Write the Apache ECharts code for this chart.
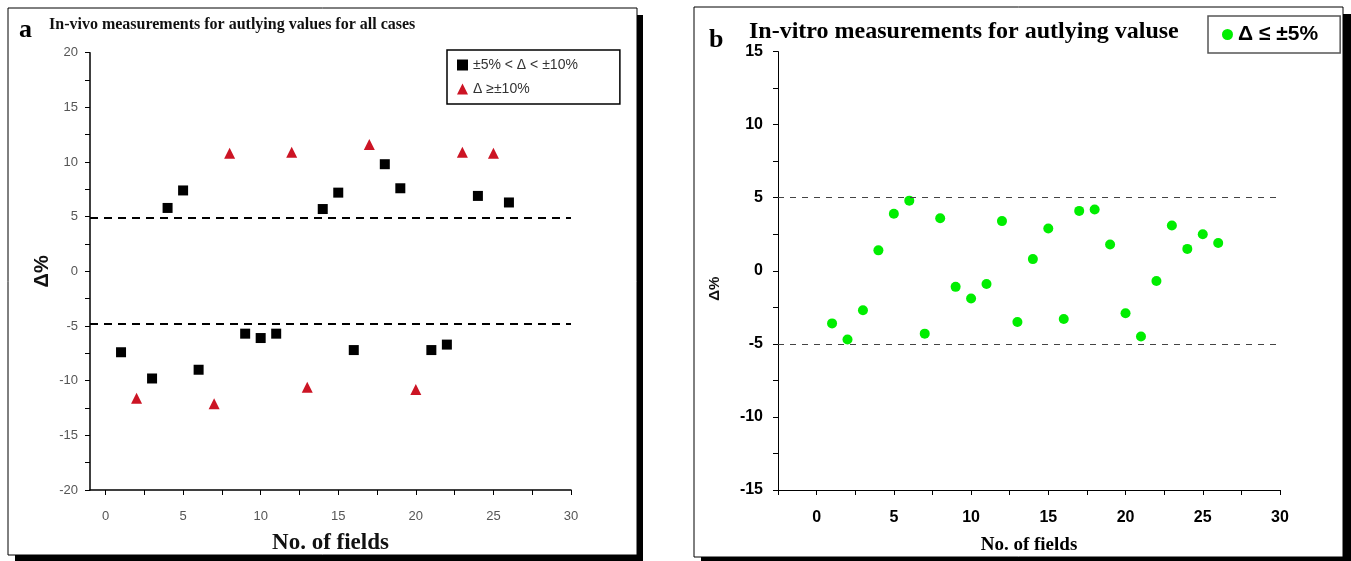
<!DOCTYPE html>
<html>
<head>
<meta charset="utf-8">
<script src="https://cdn.jsdelivr.net/npm/echarts@6/dist/echarts.min.js"></script>
<style>
  html, body { margin: 0; padding: 0; background: #fff; }
  #chart { width: 1351px; height: 561px; }
</style>
</head>
<body>
<div id="chart"></div>
<script>
// panel a: in-vivo outliers
const sqFieldA = [1, 3, 4, 5, 6, 9, 10, 11, 14, 15, 16, 18, 19, 21, 22, 24, 26];
const sqDeltaA = [-7.4, -9.8, 5.8, 7.4, -9.0, -5.7, -6.1, -5.7, 5.7, 7.2, -7.2, 9.8, 7.6, -7.2, -6.7, 6.9, 6.3];
const triFieldA = [2, 7, 8, 12, 13, 17, 20, 23, 25];
const triDeltaA = [-11.6, -12.1, 10.8, 10.9, -10.6, 11.6, -10.8, 10.9, 10.8];
const limitsA = [4.9, -4.8];

// panel b: in-vitro values
const fieldB = [1, 2, 3, 4, 5, 6, 7, 8, 9, 10, 11, 12, 13, 14, 15, 16, 17, 18, 19, 20, 21, 22, 23, 24, 25, 26];
const deltaB = [-3.6, -4.7, -2.7, 1.4, 3.9, 4.8, -4.3, 3.6, -1.1, -1.9, -0.9, 3.4, -3.5, 0.8, 2.9, -3.3, 4.1, 4.2, 1.8, -2.9, -4.5, -0.7, 3.1, 1.5, 2.5, 1.9];
const limitsB = [5, -5];

// ticks
const xTicks = [0, 2.5, 5, 7.5, 10, 12.5, 15, 17.5, 20, 22.5, 25, 27.5, 30];
const xLabels = [0, 5, 10, 15, 20, 25, 30];
const yTicksA = [-20, -17.5, -15, -12.5, -10, -7.5, -5, -2.5, 0, 2.5, 5, 7.5, 10, 12.5, 15, 17.5, 20];
const yLabelsA = [-20, -15, -10, -5, 0, 5, 10, 15, 20];
const yTicksB = [-15, -12.5, -10, -7.5, -5, -2.5, 0, 2.5, 5, 7.5, 10, 12.5, 15];
const yLabelsB = [-15, -10, -5, 0, 5, 10, 15];

const legendA = ['±5% < Δ < ±10%', 'Δ ≥±10%'];
const legendB = ['Δ ≤ ±5%'];

const serif = '"Liberation Serif", "Times New Roman", serif';
const sans = '"Liberation Sans", Arial, sans-serif';

function pairs(xs, ys) {
    return xs.map((x, i) => [x, ys[i]]);
}

let myChart = echarts.init(document.getElementById('chart'));

let option = {
    animation: false,
    title: [
        { text: 'a', left: 14, top: 12, textStyle: { fontFamily: serif, fontSize: 26, fontWeight: 'bold', color: '#000' } },
        { text: 'In-vivo measurements for autlying values for all cases', left: 44, top: 12,
          textStyle: { fontFamily: serif, fontSize: 16, fontWeight: 'bold', color: '#111' } },
        { text: 'b', left: 704, top: 22, textStyle: { fontFamily: serif, fontSize: 26, fontWeight: 'bold', color: '#000' } },
        { text: 'In-vitro measurements for autlying valuse', left: 744, top: 15,
          textStyle: { fontFamily: serif, fontSize: 24, fontWeight: 'bold', color: '#000' } }
    ],
    legend: [
        {
            data: legendA,
            orient: 'vertical',
            left: 447, top: 50,
            padding: [8, 42, 8, 10],
            itemGap: 10,
            itemWidth: 11, itemHeight: 11,
            borderColor: '#000', borderWidth: 1.5,
            textStyle: { fontFamily: sans, fontSize: 14, color: '#333' }
        },
        {
            data: legendB,
            left: 1208, top: 16,
            padding: [8, 22, 8, 14],
            itemWidth: 11, itemHeight: 11,
            borderColor: '#555', borderWidth: 1.5,
            textStyle: { fontFamily: sans, fontSize: 21, fontWeight: 'bold', color: '#000' }
        }
    ],
    grid: [
        { left: 90, top: 52.7, width: 481, height: 437.3 },
        { left: 778, top: 51.6, width: 502, height: 438.4 }
    ],
    xAxis: [
        {
            gridIndex: 0, type: 'value', min: -1, max: 30,
            name: 'No. of fields', nameLocation: 'middle', nameGap: 42,
            nameTextStyle: { fontFamily: serif, fontSize: 23, fontWeight: 'bold', color: '#111' },
            axisLine: { onZero: false, lineStyle: { color: '#000', width: 1.5 } },
            axisTick: { customValues: xTicks, length: 5, lineStyle: { color: '#000' } },
            axisLabel: { customValues: xLabels, margin: 20, fontFamily: sans, fontSize: 13, color: '#555' },
            splitLine: { show: false }
        },
        {
            gridIndex: 1, type: 'value', min: -2.5, max: 30,
            name: 'No. of fields', nameLocation: 'middle', nameGap: 46,
            nameTextStyle: { fontFamily: serif, fontSize: 19, fontWeight: 'bold', color: '#000' },
            axisLine: { onZero: false, lineStyle: { color: '#000', width: 1 } },
            axisTick: { customValues: xTicks.concat([-2.5]), length: 5, lineStyle: { color: '#000' } },
            axisLabel: { customValues: xLabels, margin: 20, fontFamily: sans, fontSize: 16, fontWeight: 'bold', color: '#000' },
            splitLine: { show: false }
        }
    ],
    yAxis: [
        {
            gridIndex: 0, type: 'value', min: -20, max: 20,
            name: 'Δ%', nameLocation: 'middle', nameGap: 38, nameRotate: 90,
            nameTextStyle: { fontFamily: sans, fontSize: 20, fontWeight: 'bold', color: '#111' },
            axisLine: { onZero: false, lineStyle: { color: '#000', width: 1.5 } },
            axisTick: { customValues: yTicksA, length: 5, lineStyle: { color: '#000' } },
            axisLabel: { customValues: yLabelsA, margin: 12, fontFamily: sans, fontSize: 13, color: '#555' },
            splitLine: { show: false }
        },
        {
            gridIndex: 1, type: 'value', min: -15, max: 15,
            name: 'Δ%', nameLocation: 'middle', nameGap: 56, nameRotate: 90,
            nameTextStyle: { fontFamily: sans, fontSize: 15, fontWeight: 'bold', color: '#111', padding: [0, 36, 0, 0] },
            axisLine: { onZero: false, lineStyle: { color: '#000', width: 1 } },
            axisTick: { customValues: yTicksB, length: 5, lineStyle: { color: '#000' } },
            axisLabel: { customValues: yLabelsB, margin: 15, fontFamily: sans, fontSize: 16, fontWeight: 'bold', color: '#000' },
            splitLine: { show: false }
        }
    ],
    series: [
        {
            name: legendA[0], type: 'scatter', xAxisIndex: 0, yAxisIndex: 0,
            symbol: 'rect', symbolSize: 10,
            itemStyle: { color: '#000', opacity: 1 },
            data: pairs(sqFieldA, sqDeltaA),
            markLine: {
                silent: true, symbol: 'none', label: { show: false },
                lineStyle: { color: '#000', type: [8, 6], width: 2 },
                data: limitsA.map(v => ({ yAxis: v }))
            }
        },
        {
            name: legendA[1], type: 'scatter', xAxisIndex: 0, yAxisIndex: 0,
            symbol: 'triangle', symbolSize: 11,
            itemStyle: { color: '#cc1424', opacity: 1 },
            data: pairs(triFieldA, triDeltaA)
        },
        {
            name: legendB[0], type: 'scatter', xAxisIndex: 1, yAxisIndex: 1,
            symbol: 'circle', symbolSize: 10,
            itemStyle: { color: '#00ee00', opacity: 1 },
            data: pairs(fieldB, deltaB),
            markLine: {
                silent: true, symbol: 'none', label: { show: false },
                lineStyle: { color: '#444', type: [6, 6], width: 1 },
                data: limitsB.map(v => ({ yAxis: v }))
            }
        }
    ],
    // panel frames with heavy drop shadow on right/bottom
    graphic: [
        { type: 'rect', shape: { x: 8, y: 8, width: 629, height: 547 }, style: { fill: 'none', stroke: '#000', lineWidth: 1 } },
        { type: 'rect', shape: { x: 637, y: 15, width: 6, height: 546 }, style: { fill: '#000' } },
        { type: 'rect', shape: { x: 15, y: 555, width: 628, height: 6 }, style: { fill: '#000' } },
        { type: 'rect', shape: { x: 694, y: 7, width: 649, height: 550 }, style: { fill: 'none', stroke: '#000', lineWidth: 1 } },
        { type: 'rect', shape: { x: 1343, y: 14, width: 8, height: 547 }, style: { fill: '#000' } },
        { type: 'rect', shape: { x: 701, y: 557, width: 650, height: 4 }, style: { fill: '#000' } }
    ]
};

myChart.setOption(option);
</script>
</body>
</html>
